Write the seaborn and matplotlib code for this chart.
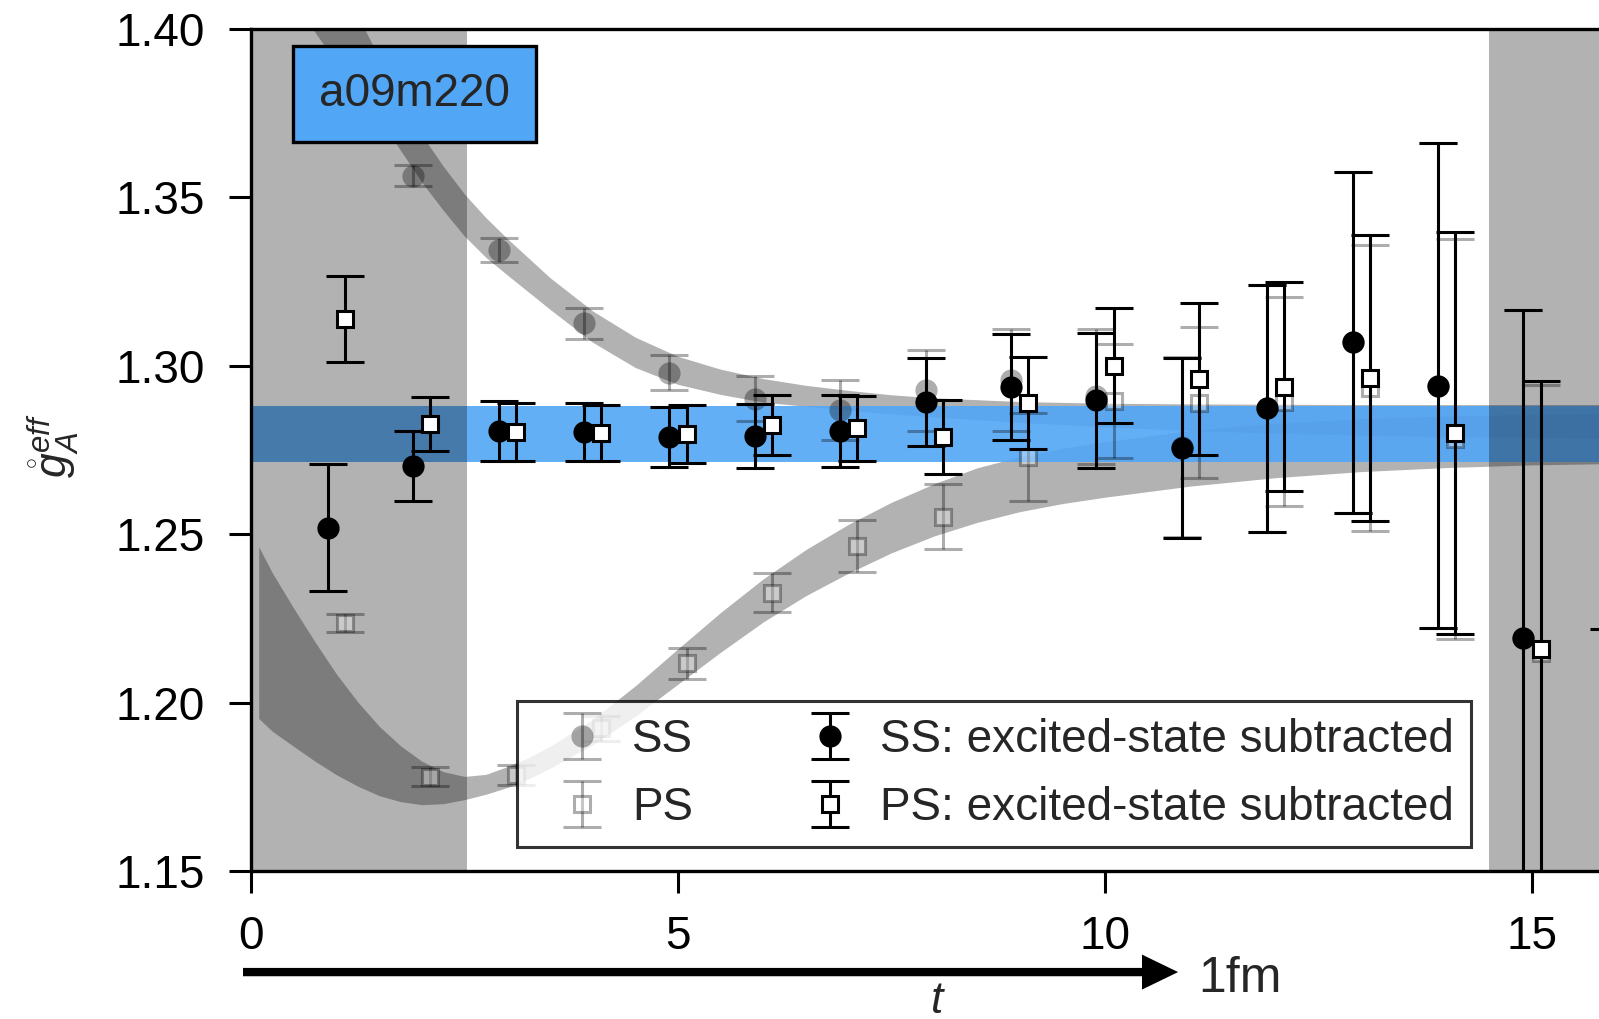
import numpy as np
import matplotlib
matplotlib.use("Agg")
import matplotlib.pyplot as plt
import seaborn as sns

# ---------------- data ----------------
# Euclidean time slices
t_slices = np.arange(1, 16)
t_slices_ss_sub = np.arange(1, 17)

# effective g_A, smeared-smeared (SS) and point-smeared (PS) correlators
ss_raw = [1.4150, 1.3564, 1.3345, 1.3126, 1.2980, 1.2903, 1.2869, 1.2928,
          1.2958, 1.2910, 1.2760, 1.2874, 1.3070, 1.2941, 1.2193]
ss_raw_err = [0.0030, 0.0031, 0.0036, 0.0045, 0.0053, 0.0066, 0.0089, 0.0120,
              0.0150, 0.0200, 0.0267, 0.0366, 0.0506, 0.0720, 0.0973]
ps_raw = [1.2237, 1.1780, 1.1785, 1.1924, 1.2117, 1.2326, 1.2465, 1.2552,
          1.2730, 1.2895, 1.2891, 1.2894, 1.2935, 1.2783, 1.2146]
ps_raw_err = [0.0026, 0.0028, 0.0030, 0.0037, 0.0046, 0.0058, 0.0077, 0.0096,
              0.0130, 0.0170, 0.0225, 0.0310, 0.0424, 0.0595, 0.0797]

# excited-state subtracted
ss_sub = [1.2519, 1.2703, 1.2806, 1.2803, 1.2789, 1.2792, 1.2806, 1.2893,
          1.2937, 1.2898, 1.2755, 1.2874, 1.3070, 1.2941, 1.2193, 1.1200]
ss_sub_err = [0.0189, 0.0104, 0.0089, 0.0086, 0.0090, 0.0094, 0.0107, 0.0130,
              0.0158, 0.0200, 0.0267, 0.0366, 0.0506, 0.0720, 0.0973, 0.1018]
ps_sub = [1.3139, 1.2827, 1.2804, 1.2800, 1.2797, 1.2824, 1.2814, 1.2789,
          1.2889, 1.3000, 1.2960, 1.2938, 1.2963, 1.2801, 1.2158]
ps_sub_err = [0.0128, 0.0081, 0.0086, 0.0084, 0.0086, 0.0088, 0.0096, 0.0109,
              0.0137, 0.0171, 0.0226, 0.0310, 0.0425, 0.0597, 0.0797]

# fit bands (lower / upper edge)
ss_fit_t = [0.09, 0.5, 1.0, 1.5, 2.0, 2.25, 2.5, 2.75, 3.0, 3.5, 4.0, 4.5,
            5.0, 5.5, 6.0, 6.5, 7.0, 7.5, 8.0, 9.0, 10.0, 11.0, 12.0, 13.0,
            14.0, 15.0, 16.5]
ss_fit_lo = [1.4260, 1.4080, 1.3900, 1.3735, 1.3545, 1.3462, 1.3385, 1.3322,
             1.3270, 1.3168, 1.3070, 1.2995, 1.2945, 1.2915, 1.2892, 1.2880,
             1.2868, 1.2857, 1.2848, 1.2832, 1.2819, 1.2808, 1.2800, 1.2794,
             1.2790, 1.2787, 1.2784]
ss_fit_hi = [1.4700, 1.4450, 1.4165, 1.3915, 1.3685, 1.3593, 1.3510, 1.3440,
             1.3378, 1.3262, 1.3163, 1.3085, 1.3028, 1.2990, 1.2962, 1.2942,
             1.2927, 1.2914, 1.2905, 1.2894, 1.2889, 1.2887, 1.2886, 1.2885,
             1.2885, 1.2885, 1.2885]
ps_fit_t = [0.09, 0.25, 0.5, 0.75, 1.0, 1.25, 1.5, 1.75, 2.0, 2.25, 2.5, 2.75,
            3.0, 3.25, 3.5, 4.0, 4.5, 5.0, 5.5, 6.0, 6.5, 7.0, 7.5, 8.0, 8.5,
            9.0, 9.5, 10.0, 11.0, 12.0, 13.0, 14.0, 15.0, 16.5]
ps_fit_lo = [1.1953, 1.1915, 1.1870, 1.1826, 1.1786, 1.1752, 1.1724, 1.1706,
             1.1697, 1.1700, 1.1712, 1.1728, 1.1748, 1.1774, 1.1805, 1.1875,
             1.1960, 1.2055, 1.2150, 1.2240, 1.2318, 1.2385, 1.2445, 1.2495,
             1.2535, 1.2567, 1.2591, 1.2610, 1.2643, 1.2668, 1.2686, 1.2698,
             1.2706, 1.2712]
ps_fit_hi = [1.2463, 1.2385, 1.2280, 1.2180, 1.2085, 1.2002, 1.1930, 1.1872,
             1.1826, 1.1795, 1.1781, 1.1787, 1.1810, 1.1837, 1.1870, 1.1950,
             1.2050, 1.2160, 1.2268, 1.2368, 1.2455, 1.2530, 1.2595, 1.2650,
             1.2697, 1.2730, 1.2755, 1.2775, 1.2808, 1.2830, 1.2843, 1.2851,
             1.2856, 1.2860]

# final g_A result
ga_mean = 1.2798
ga_err = 0.0083

# time ranges excluded from the fit
excluded_lo = 2.53
excluded_hi = 14.5

# 1 fm in lattice units
fm_length = 10.95

ensemble = "a09m220"
legend_labels = ["SS", "PS", "SS: excited-state subtracted",
                 "PS: excited-state subtracted"]

# ---------------- style ----------------
sns.set_theme(style="ticks")
plt.rcParams["font.family"] = ["Liberation Sans", "DejaVu Sans"]
plt.rcParams["mathtext.fontset"] = "custom"
plt.rcParams["mathtext.rm"] = "Liberation Sans"
plt.rcParams["mathtext.it"] = "Liberation Sans:italic"
plt.rcParams["axes.linewidth"] = 1.2

BLUE = "#52a6f6"
FS = 16.5

fig = plt.figure(figsize=(7.995, 5.095), dpi=200)
ax = fig.add_axes([0.1570, 0.1452, 0.8812, 0.8263])
ax.set_xlim(0, 16.5)
ax.set_ylim(1.15, 1.40)

# result band
ax.axhspan(ga_mean - ga_err, ga_mean + ga_err, color=BLUE, alpha=0.9,
           lw=0, zorder=2)

# fit bands
ax.fill_between(ss_fit_t, ss_fit_lo, ss_fit_hi, color="black", alpha=0.3,
                lw=0, zorder=1)
ax.fill_between(ps_fit_t, ps_fit_lo, ps_fit_hi, color="black", alpha=0.3,
                lw=0, zorder=1)

# excluded regions
ax.axvspan(0, excluded_lo, color="black", alpha=0.3, lw=0, zorder=3)
ax.axvspan(excluded_hi, 20, color="black", alpha=0.3, lw=0, zorder=3)

eb_kw = dict(elinewidth=1.1, capsize=7, capthick=1.1, ls="none")
t = np.asarray(t_slices, dtype=float)
t16 = np.asarray(t_slices_ss_sub, dtype=float)

h_ss_raw = ax.errorbar(t - 0.1, ss_raw, yerr=ss_raw_err, marker="o", ms=8,
                       color="black", mfc="black", mec="none", alpha=0.32,
                       zorder=4, **eb_kw)
h_ps_raw = ax.errorbar(t + 0.1, ps_raw, yerr=ps_raw_err, marker="s", ms=6.1,
                       color="black", mfc="white", mec="black", mew=1.1,
                       alpha=0.32, zorder=4, **eb_kw)
h_ss_sub = ax.errorbar(t16 - 0.1, ss_sub, yerr=ss_sub_err, marker="o", ms=8,
                       color="black", mfc="black", mec="none",
                       zorder=6, **eb_kw)
h_ps_sub = ax.errorbar(t + 0.1, ps_sub, yerr=ps_sub_err, marker="s", ms=6.1,
                       color="black", mfc="white", mec="black", mew=1.1,
                       zorder=7, **eb_kw)

# axes cosmetics
yt = [1.15, 1.20, 1.25, 1.30, 1.35, 1.40]
ax.set_xticks([0, 5, 10, 15])
ax.set_yticks(yt)
ax.set_yticklabels([f"{v:.2f}" for v in yt])
ax.tick_params(axis="both", direction="out", length=8, width=1.1,
               labelsize=FS, color="black", labelcolor="black")
ax.tick_params(axis="x", pad=7.8)
ax.tick_params(axis="y", pad=8.5)
for s in ax.spines.values():
    s.set_color("black")
    s.set_linewidth(1.2)
ax.spines["right"].set_visible(False)

ax.set_ylabel(r"$\mathring{g}_A^{eff}$", fontsize=16)
ax.yaxis.set_label_coords(-0.12, 0.505)
ax.set_xlabel(r"$t$", fontsize=16)
ax.xaxis.set_label_coords(0.4876, -0.1305)

# ensemble tag
ax.text(0.116, 0.9228, ensemble, transform=ax.transAxes, ha="center",
        va="center", fontsize=FS, zorder=10,
        bbox=dict(boxstyle="square,pad=0.56", fc=BLUE, ec="black", lw=1.2))

# 1 fm arrow below the axis
arrow_start = -0.094
ax.annotate("", xy=(arrow_start + fm_length, -0.12),
            xytext=(arrow_start, -0.12),
            xycoords=("data", "axes fraction"),
            textcoords=("data", "axes fraction"),
            arrowprops=dict(arrowstyle="simple,head_length=1.3,head_width=1.26,tail_width=0.3",
                            mutation_scale=10, fc="black", ec="none",
                            shrinkA=0, shrinkB=0),
            annotation_clip=False)
ax.text(arrow_start + fm_length + 0.24, -0.128, "1fm",
        transform=ax.get_xaxis_transform(), ha="left", va="center",
        fontsize=18, clip_on=False)

leg = ax.legend([h_ss_raw, h_ps_raw, h_ss_sub, h_ps_sub], legend_labels,
                ncol=2, loc="lower left", bbox_to_anchor=(0.189, 0.0284),
                fontsize=FS, frameon=True, fancybox=False, framealpha=0.8,
                edgecolor="black", borderpad=0.37, labelspacing=0.53,
                handlelength=2.06, handletextpad=0.07, columnspacing=1.95,
                borderaxespad=0)
leg.get_frame().set_linewidth(1.1)
leg.set_zorder(9)

fig.savefig("out.png", dpi=200)
